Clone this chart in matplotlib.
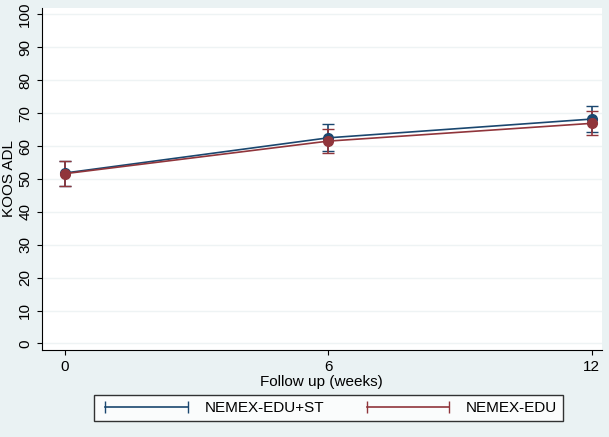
import matplotlib.pyplot as plt
import numpy as np

plt.rcParams['font.family'] = ['Liberation Sans', 'DejaVu Sans']

weeks = [0, 6, 12]
st_mean = [51.8, 62.5, 68.2]
st_lo = [48.0, 58.5, 64.2]
st_hi = [55.6, 66.6, 72.2]
edu_mean = [51.6, 61.5, 66.9]
edu_lo = [47.8, 58.0, 63.4]
edu_hi = [55.4, 65.2, 70.6]

bg = "#eaf2f3"
blue = "#1a476f"
red = "#90353b"

fig = plt.figure(figsize=(6.09, 4.37), dpi=100, facecolor=bg)
ax = fig.add_axes([0.069, 0.199, 0.919, 0.783])
ax.set_facecolor("white")

for mean, lo, hi, c, lab in [(st_mean, st_lo, st_hi, blue, "NEMEX-EDU+ST"),
                             (edu_mean, edu_lo, edu_hi, red, "NEMEX-EDU")]:
    m = np.array(mean)
    yerr = [m - np.array(lo), np.array(hi) - m]
    ax.errorbar(weeks, mean, yerr=yerr, color=c, lw=1.2, capsize=4,
                elinewidth=1.2, marker="o", ms=7, label=lab)

ax.set_xlim(-0.52, 12.23)
ax.set_ylim(-2, 102)
ax.set_xticks([0, 6, 12])
ax.set_yticks(range(0, 101, 10))
ax.tick_params(axis="y", labelrotation=90, labelsize=11)
ax.tick_params(axis="x", labelsize=11)
for t in ax.get_yticklabels():
    t.set_va("center")
ax.grid(axis="y", color="#eef3f4", lw=1)
ax.set_axisbelow(True)
for s in ["top", "right"]:
    ax.spines[s].set_visible(False)
ax.set_xlabel("Follow up (weeks)", fontsize=11, labelpad=1)
ax.set_ylabel("KOOS ADL", fontsize=11, labelpad=2)

handles = [plt.Line2D([], [], color=blue, lw=1.2, marker="|", ms=8),
           plt.Line2D([], [], color=red, lw=1.2, marker="|", ms=8)]
leg = fig.legend(handles, ["NEMEX-EDU+ST", "NEMEX-EDU"], loc="center",
                 bbox_to_anchor=(0.54, 0.066), ncol=2, frameon=True,
                 fancybox=False, edgecolor="black", fontsize=11,
                 handlelength=6, columnspacing=2.5, numpoints=2)
leg.get_frame().set_facecolor("white")

fig.savefig("out.png", dpi=100, facecolor=bg)
